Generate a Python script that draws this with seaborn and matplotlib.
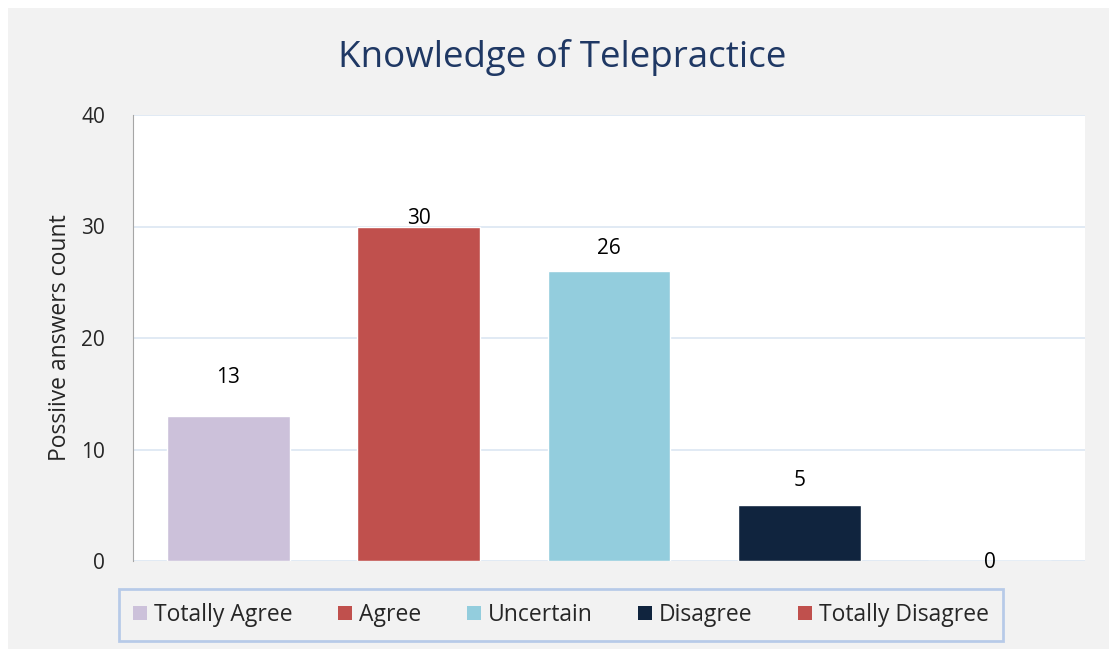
import seaborn as sns
import matplotlib.pyplot as plt
from matplotlib.patches import Patch, Rectangle
import pandas as pd

categories = ['Totally Agree', 'Agree', 'Uncertain', 'Disagree', 'Totally Disagree']
counts = [13, 30, 26, 5, 0]
colors = ['#ccc1da', '#c0504d', '#93cddd', '#10243e', '#c0504d']
# vertical offset of each data label above its bar, in pixels (as placed in the original)
label_offsets = [39, 8, 23, 25, -2]

sns.set_style('white')
plt.rcParams['font.family'] = ['Open Sans', 'DejaVu Sans']

df = pd.DataFrame({'category': categories, 'count': counts})

fig = plt.figure(figsize=(11.09, 6.49), dpi=100, facecolor='white')
fig.patches.append(Rectangle((8 / 1109, 0), 1, 1 - 8 / 649, transform=fig.transFigure,
                             facecolor='#f2f2f2', edgecolor='none', zorder=-10))
ax = fig.add_axes([133 / 1109, 1 - 561 / 649, 952 / 1109, 446 / 649])
ax.set_facecolor('white')

sns.barplot(data=df, x='category', y='count', hue='category', palette=colors,
            width=0.645, saturation=1, legend=False, ax=ax)

ax.set_ylim(0, 40)
ax.set_yticks([0, 10, 20, 30, 40])
ax.tick_params(axis='y', labelsize=15, length=0, pad=20)
ax.set_xticks([])
ax.set_xlabel('')
ax.set_ylabel('Possiive answers count', fontsize=16.5)
ax.yaxis.set_label_coords(-0.064, 0.5)
ax.grid(axis='y', color='#dce6f2', linewidth=1.2)
ax.set_axisbelow(True)
for s in ['top', 'right', 'bottom']:
    ax.spines[s].set_visible(False)
ax.spines['left'].set_color('#a6a6a6')

for i, (v, off) in enumerate(zip(counts, label_offsets)):
    ax.annotate(str(v), (i, v), xytext=(0, off * 0.72), textcoords='offset points',
                ha='center', va='center', fontsize=15, color='black')

fig.text(562 / 1109, 1 - 57 / 649, 'Knowledge of Telepractice', ha='center', va='center',
         fontsize=26.5, color='#1f3864')

handles = [Patch(facecolor=c, edgecolor='none') for c in colors]
leg = fig.legend(handles, categories, loc='center', ncol=5, fontsize=16.5,
                 bbox_to_anchor=(561 / 1109, 1 - 615 / 649), frameon=True, fancybox=False,
                 handlelength=0.6, handleheight=0.6, handletextpad=0.3, columnspacing=2.0,
                 borderpad=0.6)
leg.get_frame().set_edgecolor('#a9c1e6')
leg.get_frame().set_linewidth(2)
leg.get_frame().set_facecolor('#f2f2f2')

fig.savefig('out.png', dpi=100, facecolor=fig.get_facecolor())
